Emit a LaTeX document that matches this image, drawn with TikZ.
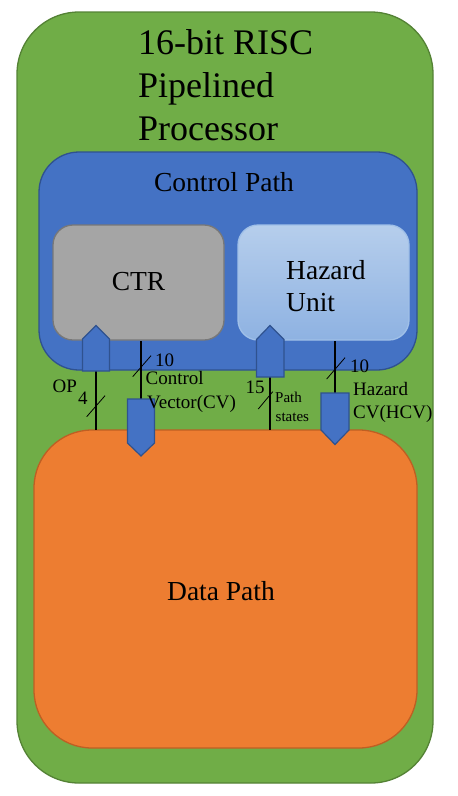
\documentclass[tikz,border=0pt]{standalone}
\usepackage{fontspec}
\setmainfont{Liberation Serif}
\begin{document}
\begin{tikzpicture}[x=1pt,y=-1pt,
  box/.style={draw, line width=1.3pt, inner sep=0pt},
  tbig/.style={font=\fontsize{36}{43}\selectfont, inner sep=0pt},
  tmid/.style={font=\fontsize{27.5}{32}\selectfont, inner sep=0pt},
  tlab/.style={font=\fontsize{19}{23}\selectfont, inner sep=0pt, anchor=base west},
  tsml/.style={font=\fontsize{15}{18}\selectfont, inner sep=0pt, anchor=base west},
  wire/.style={line width=2pt},
  slash/.style={line width=0.8pt},
  port/.style={fill=cpblue, draw=cpborder, line width=1.2pt, line join=miter}]
\definecolor{outgreen}{RGB}{112,173,71}
\definecolor{outgreenb}{RGB}{84,130,53}
\definecolor{cpblue}{RGB}{68,114,196}
\definecolor{cpborder}{RGB}{47,82,143}
\definecolor{ctrgray}{RGB}{165,165,165}
\definecolor{ctrgrayb}{RGB}{120,120,120}
\definecolor{hztop}{RGB}{182,206,236}
\definecolor{hzbot}{RGB}{142,178,226}
\definecolor{hzb}{RGB}{160,192,232}
\definecolor{dporange}{RGB}{237,125,49}
\definecolor{dporangeb}{RGB}{190,95,35}
\useasboundingbox (0,0) rectangle (458,796);
% boxes
\node[box, fill=outgreen, draw=outgreenb, rounded corners=62pt, minimum width=416pt, minimum height=771pt] (proc) at (225,397.5) {};
\node[box, fill=cpblue, draw=cpborder, rounded corners=40pt, minimum width=378pt, minimum height=218pt] (cp) at (228,261) {};
\node[box, fill=ctrgray, draw=ctrgrayb, rounded corners=20pt, minimum width=171pt, minimum height=115pt] (ctr) at (138.5,282.5) {};
\node[box, top color=hztop, bottom color=hzbot, draw=hzb, rounded corners=20pt, minimum width=171pt, minimum height=115pt] (hz) at (323.5,282.5) {};
\node[box, fill=dporange, draw=dporangeb, rounded corners=58pt, minimum width=383pt, minimum height=318pt] (dp) at (225.5,589) {};
% texts
\node[tbig, anchor=base west] (t1) at (138,54) {16-bit RISC};
\node[tbig, anchor=base west] (t2) at (138,97) {Pipelined};
\node[tbig, anchor=base west] (t3) at (138,140) {Processor};
\node[tmid, anchor=base] (cpt) at (224,191) {Control Path};
\node[tmid, anchor=base] (ctrt) at (138.5,290) {CTR};
\node[tmid, anchor=base west] (hzt1) at (286,279) {Hazard};
\node[tmid, anchor=base west] (hzt2) at (286,311) {Unit};
\node[tmid, anchor=base] (dpt) at (221,600) {Data Path};
% coordinates
\coordinate (opb) at (96,371);
\coordinate (opd) at (96,430);
\coordinate (cvs) at (141,341);
\coordinate (cvt) at (141,399);
\coordinate (psb) at (270,377);
\coordinate (psd) at (270,430);
\coordinate (hcs) at (335,341);
\coordinate (hct) at (335,393);
% wires
\draw[wire] (opb) -- (opd);
\draw[wire] (cvs) -- (cvt);
\draw[wire] (psb) -- (psd);
\draw[wire] (hcs) -- (hct);
% slashes
\draw[slash] (86.7,416.7) -- (105,395.7);
\draw[slash] (132.7,376.7) -- (151,355.7);
\draw[slash] (258.3,409) -- (272.7,391.7);
\draw[slash] (326.7,379) -- (345,357.7);
% ports
\draw[port] (82.5,371) -- (82.5,339) -- (96,325.5) -- (109.5,339) -- (109.5,371) -- cycle;
\draw[port] (127.5,399) -- (127.5,443) -- (141,456) -- (154.5,443) -- (154.5,399) -- cycle;
\draw[port] (256.5,377) -- (256.5,339.5) -- (270,325.5) -- (284,339.5) -- (284,377) -- cycle;
\draw[port] (321,393) -- (321,430) -- (335,444.5) -- (349,430) -- (349,393) -- cycle;
% labels
\node[tlab] (op) at (52.5,392) {OP};
\node[tlab] (op4) at (78,404) {4};
\node[tlab] (cv10) at (155,366.5) {10};
\node[tlab] (cv1) at (145.5,384) {Control};
\node[tlab] (cv2) at (147,408) {Vector(CV)};
\node[tlab] (ps15) at (245.5,393) {15};
\node[tsml] (ps1) at (275,402) {Path};
\node[tsml] (ps2) at (275.5,421) {states};
\node[tlab] (hc10) at (350,372) {10};
\node[tlab] (hc1) at (353,395) {Hazard};
\node[tlab] (hc2) at (353,418) {CV(HCV)};
\end{tikzpicture}
\end{document}
